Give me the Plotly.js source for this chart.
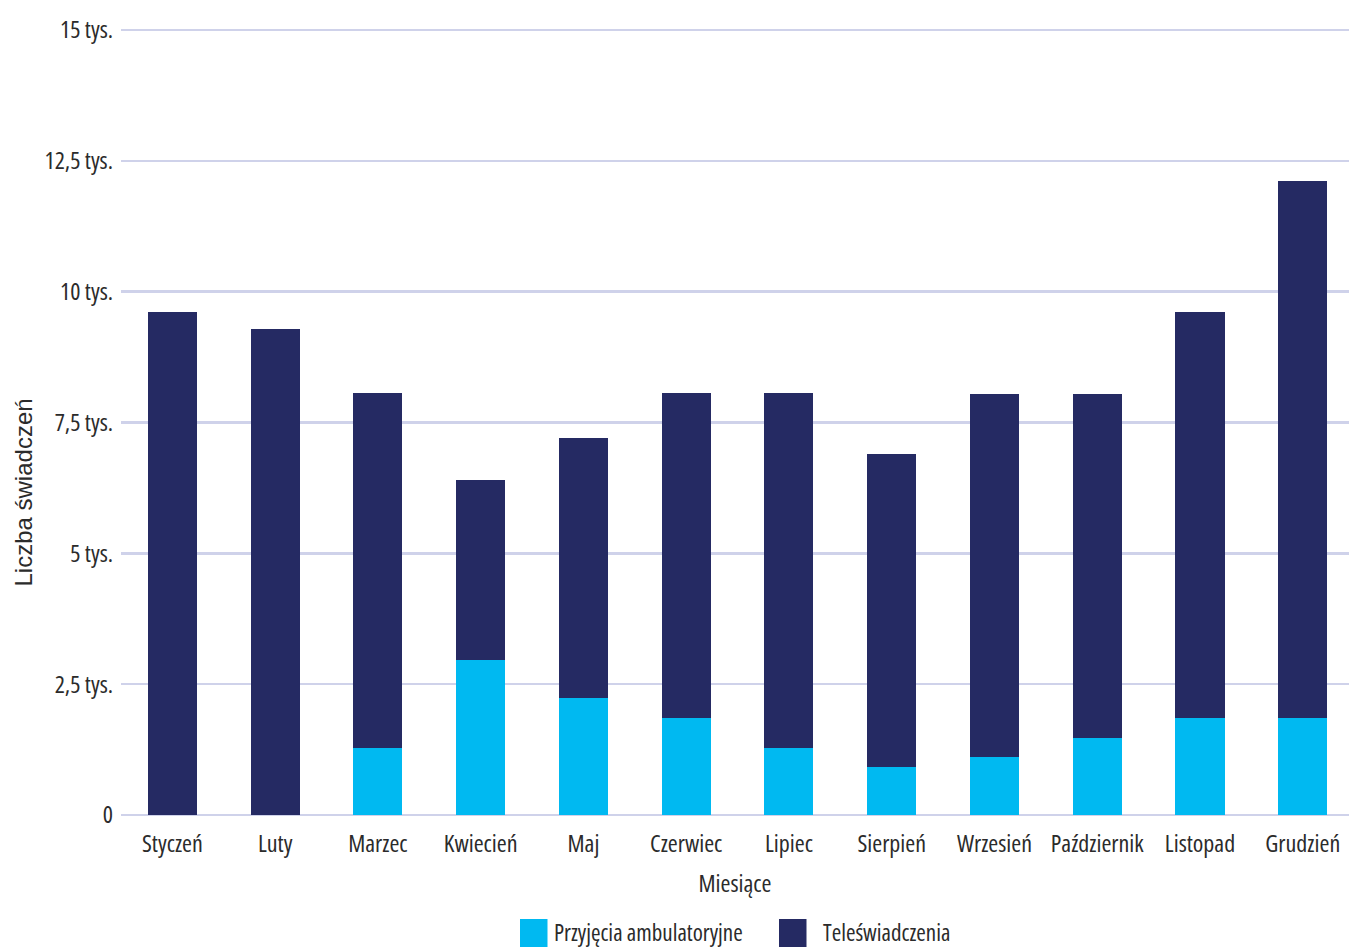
<!DOCTYPE html>
<html>
<head>
<meta charset="utf-8">
<script src="https://cdn.plot.ly/plotly-3.0.1.min.js"></script>
<style>
html,body{margin:0;padding:0;background:#fff;}
#chart{width:1349px;height:947px;}
svg text{font-stretch:75% !important;}
</style>
</head>
<body>
<div id="chart"></div>
<script>
const months = ['Styczeń','Luty','Marzec','Kwiecień','Maj','Czerwiec','Lipiec','Sierpień','Wrzesień','Październik','Listopad','Grudzień'];
const przyjecia = [0, 0, 1281, 2955, 2242, 1846, 1281, 923, 1112, 1469, 1846, 1846];
const teleswiadczenia = [9616, 9285, 6778, 3454, 4953, 6213, 6778, 5973, 6927, 6570, 7770, 10263];
const yTickVals = [0, 2500, 5000, 7500, 10000, 12500, 15000];
const yTickText = ['0', '2,5 tys.', '5 tys.', '7,5 tys.', '10 tys.', '12,5 tys.', '15 tys.'];
const seriesNames = ['Przyjęcia ambulatoryjne', 'Teleświadczenia'];
const seriesColors = ['#00b9f1', '#252a63'];

const condensed = '"Open Sans", sans-serif';
const textColor = '#2b2b2b';

const traces = [
  {type: 'bar', name: seriesNames[0], x: months, y: przyjecia, marker: {color: seriesColors[0]}, showlegend: false},
  {type: 'bar', name: seriesNames[1], x: months, y: teleswiadczenia, marker: {color: seriesColors[1]}, showlegend: false}
];

const L = 121, W = 1228, B0 = 815, H = 787;
const px = v => (v - L) / W;
const py = v => (B0 - v) / H;

const layout = {
  width: 1349, height: 947,
  margin: {l: L, r: 0, t: 28, b: 132},
  barmode: 'stack',
  bargap: 0.523,
  paper_bgcolor: '#ffffff',
  plot_bgcolor: '#ffffff',
  font: {family: condensed, size: 24, color: textColor},
  xaxis: {
    type: 'category',
    range: [-0.5, 11.45],
    tickangle: 0,
    showgrid: false,
    showline: false,
    ticks: '',
    ticklabelstandoff: 12,
    tickfont: {family: condensed, size: 24, color: textColor},
    title: {text: 'Miesiące', font: {family: condensed, size: 24, color: textColor}, standoff: 17}
  },
  yaxis: {
    range: [0, 15038],
    tickvals: yTickVals,
    ticktext: yTickText,
    showgrid: true,
    gridcolor: '#cfd2ea',
    gridwidth: 2.5,
    zeroline: true,
    zerolinecolor: '#cfd2ea',
    zerolinewidth: 2.5,
    showline: false,
    ticks: '',
    ticklabelstandoff: 7,
    tickfont: {family: condensed, size: 24, color: textColor}
  },
  shapes: [
    {type: 'rect', xref: 'paper', yref: 'paper', x0: px(520), x1: px(547.5), y0: py(948), y1: py(919), fillcolor: seriesColors[0], line: {width: 0}},
    {type: 'rect', xref: 'paper', yref: 'paper', x0: px(779), x1: px(806.5), y0: py(948), y1: py(919), fillcolor: seriesColors[1], line: {width: 0}}
  ],
  annotations: [
    {xref: 'paper', yref: 'paper', x: px(22.5), y: py(493), text: 'Liczba świadczeń', textangle: -90, showarrow: false, xanchor: 'center', yanchor: 'middle', font: {family: '"Liberation Sans", Arial, sans-serif', size: 24, color: textColor}},
    {xref: 'paper', yref: 'paper', x: px(552), y: py(932), text: seriesNames[0], showarrow: false, xanchor: 'left', yanchor: 'middle', font: {family: condensed, size: 23, color: textColor}},
    {xref: 'paper', yref: 'paper', x: px(821), y: py(932), text: seriesNames[1], showarrow: false, xanchor: 'left', yanchor: 'middle', font: {family: condensed, size: 23, color: textColor}}
  ]
};

Plotly.newPlot('chart', traces, layout, {displayModeBar: false, staticPlot: true});
</script>
</body>
</html>
